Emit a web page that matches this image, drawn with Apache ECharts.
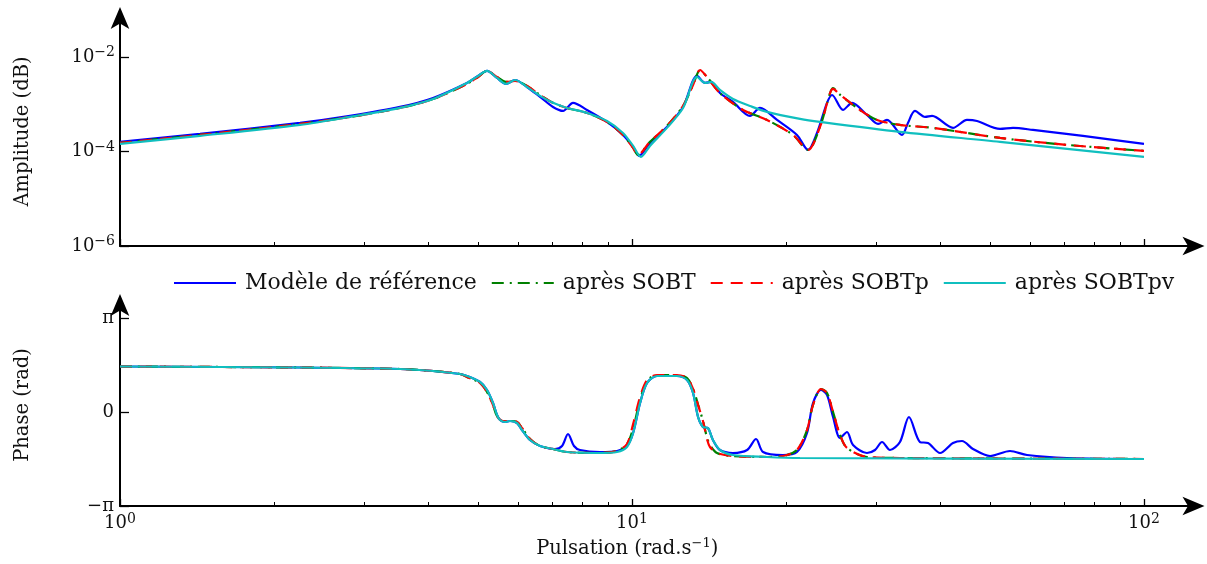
<!DOCTYPE html>
<html><head><meta charset="utf-8">
<script src="https://cdn.jsdelivr.net/npm/echarts@6/dist/echarts.min.js"></script>
<style>html,body{margin:0;padding:0;background:#fff}#c{width:1207px;height:564px}</style>
</head><body><div id="c"></div>
<script>
// ---------- labels & ticks ----------
const seriesNames = ['Modèle de référence', 'après SOBT', 'après SOBTp', 'après SOBTpv'];
const seriesColors = ['#0000ff', '#008000', '#ff0000', '#10bfbf'];
const xTickValues = [1, 10, 100];
const xTickLabels = ['0', '1', '2'];
const xMinorTicks = [2, 3, 4, 5, 6, 7, 8, 9, 20, 30, 40, 50, 60, 70, 80, 90];
const ampTickValues = [1e-6, 1e-4, 1e-2];
const ampTickLabels = ['−6', '−4', '−2'];
const phaseTickValues = [-Math.PI, 0, Math.PI];
const phaseTickLabels = ['−π', '0', 'π'];

// ---------- amplitude (top panel) ----------
const ampRefW = [1.00,1.433,2.247,2.813,3.523,4.087,4.761,5.004,5.21,5.449,5.675,5.909,6.237,6.613,7.01,7.333,7.67,8.167,8.937,9.603,10.05,10.32,10.84,11.70,12.58,13.40,13.89,14.27,14.85,15.75,17.0,17.78,19.2,21.0,22.07,22.98,24.04,24.59,25.83,26.9,28.77,30.24,31.48,33.67,34.59,35.70,37.36,38.55,42.36,45.11,47.19,52.34,55.48,60.7,76.0,100];
const ampRef = [1.60e-4,2.36e-4,4.02e-4,5.66e-4,8.77e-4,1.36e-3,2.82e-3,3.97e-3,5.06e-3,3.60e-3,2.69e-3,3.26e-3,2.32e-3,1.43e-3,8.77e-4,7.22e-4,1.07e-3,7.57e-4,4.22e-4,2.24e-4,1.25e-4,8.1e-5,1.52e-4,3.31e-4,8.77e-4,3.97e-3,2.82e-3,2.96e-3,1.73e-3,1.12e-3,5.66e-4,8.35e-4,4.66e-4,2.24e-4,1.08e-4,2.47e-4,1.07e-3,1.57e-3,7.57e-4,1.07e-3,5.94e-4,3.83e-4,4.66e-4,2.24e-4,4.02e-4,7.22e-4,5.39e-4,5.66e-4,3.16e-4,4.66e-4,4.43e-4,3.01e-4,3.16e-4,2.86e-4,2.14e-4,1.45e-4];

const ampSobtW = [1.0,1.433,2.247,2.813,3.523,4.087,4.761,5.004,5.21,5.449,5.675,5.909,6.237,6.613,7.01,7.464,8.167,8.937,9.603,10.05,10.27,10.84,11.70,12.58,13.16,13.58,14.01,14.85,16.48,18.35,20.63,22.07,23.29,24.37,24.70,25.37,27.88,30.10,33.37,38.72,52.34,70.72,100];
const ampSobt = [1.52e-4,2.24e-4,3.83e-4,5.39e-4,8.35e-4,1.29e-3,2.69e-3,3.78e-3,5.06e-3,3.78e-3,2.96e-3,3.11e-3,2.44e-3,1.57e-3,1.07e-3,8.35e-4,6.55e-4,4.22e-4,2.24e-4,1.19e-4,8.5e-5,1.60e-4,3.48e-4,9.2e-4,2.56e-3,5.2e-3,3.78e-3,1.73e-3,7.57e-4,4.66e-4,2.24e-4,1.08e-4,3.31e-4,1.73e-3,2.2e-3,1.65e-3,7.57e-4,4.66e-4,3.65e-4,3.16e-4,1.94e-4,1.38e-4,1.03e-4];

const ampSobtpW = [1.0,1.433,2.247,2.813,3.523,4.087,4.761,5.004,5.21,5.449,5.675,5.909,6.237,6.613,7.01,7.464,8.167,8.937,9.603,10.05,10.27,10.84,11.70,12.58,13.16,13.58,14.01,14.85,16.48,18.35,20.63,22.07,23.29,24.37,24.70,25.37,27.88,30.10,33.37,38.72,52.34,70.72,100];
const ampSobtp = [1.52e-4,2.24e-4,3.83e-4,5.39e-4,8.35e-4,1.29e-3,2.69e-3,3.78e-3,5.06e-3,3.78e-3,2.96e-3,3.11e-3,2.44e-3,1.57e-3,1.07e-3,8.35e-4,6.55e-4,4.22e-4,2.24e-4,1.19e-4,8.5e-5,1.60e-4,3.48e-4,9.2e-4,2.56e-3,5.31e-3,3.78e-3,1.73e-3,7.57e-4,4.66e-4,2.24e-4,1.08e-4,3.31e-4,1.73e-3,2.11e-3,1.65e-3,7.57e-4,4.66e-4,3.65e-4,3.16e-4,1.94e-4,1.38e-4,1.03e-4];

const ampSobtpvW = [1.0,1.433,2.247,2.813,3.523,4.087,4.761,5.004,5.21,5.449,5.675,5.909,6.237,6.613,7.01,7.464,8.167,8.937,9.603,10.05,10.41,10.84,11.70,12.58,13.40,13.89,14.27,14.85,15.75,17.0,18.35,21.29,23.29,33.37,52.34,100];
const ampSobtpv = [1.45e-4,2.14e-4,3.65e-4,5.39e-4,8.35e-4,1.29e-3,2.82e-3,3.97e-3,5.06e-3,3.60e-3,2.69e-3,3.26e-3,2.32e-3,1.50e-3,1.07e-3,8.35e-4,6.55e-4,4.43e-4,2.47e-4,1.31e-4,7.7e-5,1.31e-4,3.16e-4,8.35e-4,3.78e-3,2.82e-3,2.96e-3,2.01e-3,1.29e-3,9.2e-4,6.88e-4,4.89e-4,4.22e-4,2.60e-4,1.60e-4,7.7e-5];

// ---------- phase (bottom panel), rad ----------
const phRefW = [1.0,2.247,3.523,4.087,4.615,4.761,5.049,5.21,5.352,5.449,5.524,5.649,5.777,5.963,6.098,6.322,6.613,7.073,7.30,7.499,7.704,7.914,8.66,9.348,9.777,10.05,10.37,10.70,11.19,12.24,12.81,13.16,13.46,13.76,14.07,14.39,14.85,15.75,16.78,17.47,18.03,19.72,21.0,21.97,22.57,23.39,24.04,24.70,25.49,26.30,27.02,28.77,29.83,30.79,31.91,33.37,34.75,36.52,37.86,39.96,42.36,44.11,46.35,50.04,54.74,59.09,70.72,100];
const phRef = [1.52,1.487,1.437,1.37,1.27,1.203,1.003,0.735,0.301,-0.1,-0.267,-0.334,-0.301,-0.368,-0.602,-0.936,-1.136,-1.237,-1.136,-0.735,-1.136,-1.27,-1.337,-1.303,-1.136,-0.702,0.301,0.969,1.203,1.203,1.069,0.635,-0.167,-0.501,-0.535,-0.936,-1.27,-1.37,-1.27,-0.902,-1.337,-1.437,-1.337,-0.702,0.301,0.735,0.568,-0.167,-0.869,-0.668,-1.103,-1.37,-1.27,-1.003,-1.27,-1.003,-0.167,-1.003,-1.036,-1.37,-1.036,-0.969,-1.237,-1.471,-1.303,-1.437,-1.537,-1.571];

const phSobtW = [1.0,2.247,3.523,4.087,4.615,4.761,5.049,5.21,5.352,5.449,5.598,5.777,5.963,6.098,6.322,6.613,7.01,7.464,8.66,9.348,9.777,10.05,10.37,10.70,11.19,12.24,12.81,13.16,13.46,13.76,14.01,14.20,14.66,15.75,18.35,19.72,21.0,21.97,22.57,23.39,24.04,24.70,25.49,26.30,28.77,33.37,100];
const phSobt = [1.52,1.487,1.437,1.37,1.27,1.17,0.969,0.668,0.234,-0.134,-0.301,-0.301,-0.334,-0.535,-0.902,-1.136,-1.237,-1.337,-1.37,-1.303,-1.069,-0.55,0.40,1.03,1.237,1.237,1.136,0.769,0.25,-0.30,-0.85,-1.10,-1.37,-1.471,-1.504,-1.471,-1.27,-0.602,0.234,0.769,0.635,0,-0.769,-1.203,-1.504,-1.537,-1.571];

const phSobtpW = [1.0,2.247,3.523,4.087,4.615,4.761,5.049,5.21,5.352,5.449,5.598,5.777,5.963,6.098,6.322,6.613,7.01,7.464,8.66,9.348,9.777,10.05,10.37,10.70,11.19,12.24,12.81,13.16,13.46,13.76,14.01,14.20,14.66,15.75,18.35,19.72,21.0,21.97,22.57,23.39,24.04,24.70,25.49,26.30,28.77,33.37,100];
const phSobtp = [1.52,1.487,1.437,1.37,1.27,1.17,0.969,0.668,0.234,-0.134,-0.301,-0.301,-0.334,-0.535,-0.902,-1.136,-1.237,-1.337,-1.37,-1.303,-1.069,-0.40,0.50,1.069,1.237,1.237,1.136,0.769,0.23,-0.30,-0.90,-1.17,-1.37,-1.471,-1.504,-1.471,-1.27,-0.602,0.234,0.769,0.635,0,-0.769,-1.203,-1.504,-1.537,-1.571];

const phSobtpvW = [1.0,2.247,3.523,4.087,4.615,4.761,5.049,5.21,5.352,5.449,5.524,5.649,5.777,5.963,6.098,6.322,6.613,7.01,7.464,8.66,9.348,9.777,10.05,10.37,10.70,11.19,12.24,12.81,13.16,13.46,13.76,14.07,14.39,14.85,15.75,18.35,21.29,100];
const phSobtpv = [1.52,1.487,1.437,1.37,1.27,1.203,1.003,0.735,0.301,-0.1,-0.267,-0.334,-0.301,-0.368,-0.602,-0.936,-1.136,-1.237,-1.337,-1.37,-1.337,-1.17,-0.702,0.301,0.969,1.203,1.203,1.069,0.635,-0.167,-0.501,-0.535,-0.936,-1.27,-1.437,-1.504,-1.537,-1.571];

// ---------- build ----------
const FONT = 'DejaVu Serif';
const TXT = '#111';
const zip = (xs, ys) => xs.map((x, i) => [x, ys[i]]);
const nearest = (arr, v, log) => {
  let best = 0, bd = Infinity;
  arr.forEach((a, i) => { const d = log ? Math.abs(Math.log10(a) - Math.log10(v)) : Math.abs(a - v); if (d < bd) { bd = d; best = i; } });
  return best;
};
const rich = {
  b: { fontFamily: FONT, fontSize: 18, color: TXT, lineHeight: 23 },
  s: { fontFamily: FONT, fontSize: 14, color: TXT, lineHeight: 14, verticalAlign: 'top' }
};
const axisLine = { show: true, onZero: false, symbol: ['none', 'arrow'], symbolSize: [14, 22], symbolOffset: [0, 10], lineStyle: { color: '#000', width: 2 } };
const X_MAX = 125.5;

function xMain(grid, withLabels) {
  const ax = {
    type: 'log', logBase: 10, gridIndex: grid, position: 'bottom', min: 1, max: X_MAX,
    axisLine: axisLine,
    axisTick: { show: true, inside: true, length: 4, customValues: xMinorTicks, lineStyle: { color: '#000', width: 1 } },
    axisLabel: { show: false },
    splitLine: { show: false }, minorTick: { show: false }, minorSplitLine: { show: false }
  };
  if (withLabels) {
    ax.axisLabel = {
      show: true, customValues: xTickValues, margin: 6,
      formatter: v => '{b|10}{s|' + xTickLabels[nearest(xTickValues, v, true)] + '}', rich: rich
    };
    ax.name = '{n|Pulsation (rad.s}{s|−1}{n|)}';
    ax.nameLocation = 'middle';
    ax.nameGap = 31;
    ax.nameTextStyle = {
      padding: [0, 60, 0, 0],
      rich: {
        n: { fontFamily: FONT, fontSize: 19.5, color: TXT, lineHeight: 24 },
        s: { fontFamily: FONT, fontSize: 13, color: TXT, lineHeight: 14, verticalAlign: 'top' }
      }
    };
  }
  return ax;
}
function xMajor(grid) {
  return {
    type: 'log', logBase: 10, gridIndex: grid, position: 'bottom', offset: 0, min: 1, max: X_MAX,
    axisLine: { show: false, onZero: false },
    axisTick: { show: true, inside: true, length: 7, customValues: xTickValues, lineStyle: { color: '#000', width: 1.3 } },
    axisLabel: { show: false }, splitLine: { show: false }
  };
}

const option = {
  animation: false,
  backgroundColor: '#fff',
  grid: [
    { left: 120, top: 17, width: 1074.5, height: 229, outerBoundsMode: 'none', containLabel: false },
    { left: 120, top: 304, width: 1074.5, height: 202, outerBoundsMode: 'none', containLabel: false }
  ],
  legend: {
    left: 173, top: 272, padding: 0, itemWidth: 62, itemHeight: 14, itemGap: 14,
    itemStyle: { opacity: 0 },
    textStyle: { fontFamily: FONT, fontSize: 22, color: TXT, padding: [0, 0, 0, 4] },
    data: seriesNames
  },
  xAxis: [xMain(0, false), xMajor(0), xMain(1, true), xMajor(1)],
  yAxis: [
    {
      type: 'log', logBase: 10, gridIndex: 0, position: 'left', min: 1e-6, max: 0.0702,
      axisLine: axisLine,
      axisTick: { show: true, inside: true, length: 9, customValues: ampTickValues, lineStyle: { color: '#000', width: 1.3 } },
      axisLabel: {
        show: true, customValues: ampTickValues, margin: 5,
        formatter: v => '{b|10}{s|' + ampTickLabels[nearest(ampTickValues, v, true)] + '}', rich: rich
      },
      splitLine: { show: false },
      name: 'Amplitude (dB)', nameLocation: 'middle', nameGap: 87,
      nameTextStyle: { fontFamily: FONT, fontSize: 19.5, color: TXT }
    },
    {
      type: 'value', gridIndex: 1, position: 'left', min: -Math.PI, max: 3.609,
      axisLine: axisLine,
      axisTick: { show: true, inside: true, length: 9, customValues: phaseTickValues, lineStyle: { color: '#000', width: 1.3 } },
      axisLabel: {
        show: true, customValues: phaseTickValues, margin: 6,
        formatter: v => '{b|' + phaseTickLabels[nearest(phaseTickValues, v, false)] + '}', rich: rich
      },
      splitLine: { show: false },
      name: 'Phase (rad)', nameLocation: 'middle', nameGap: 87,
      nameTextStyle: { fontFamily: FONT, fontSize: 19.5, color: TXT }
    }
  ],
  series: []
};

const dashes = ['solid', [12, 6, 2, 6], [12, 8], 'solid'];
const ampSets = [[ampRefW, ampRef], [ampSobtW, ampSobt], [ampSobtpW, ampSobtp], [ampSobtpvW, ampSobtpv]];
const phSets = [[phRefW, phRef], [phSobtW, phSobt], [phSobtpW, phSobtp], [phSobtpvW, phSobtpv]];
function mk(i, set, xi, yi) {
  return {
    name: seriesNames[i], type: 'line', xAxisIndex: xi, yAxisIndex: yi,
    data: zip(set[0], set[1]), symbol: 'none', showSymbol: false, smooth: 0.3,
    lineStyle: { color: seriesColors[i], width: 2.2, type: dashes[i] },
    itemStyle: { color: seriesColors[i] }, z: 2 + i
  };
}
for (let i = 0; i < 4; i++) option.series.push(mk(i, ampSets[i], 0, 0));
for (let i = 0; i < 4; i++) option.series.push(mk(i, phSets[i], 2, 1));

const chart = echarts.init(document.getElementById('c'), null, { renderer: 'canvas' });
chart.setOption(option);
</script>
</body></html>
